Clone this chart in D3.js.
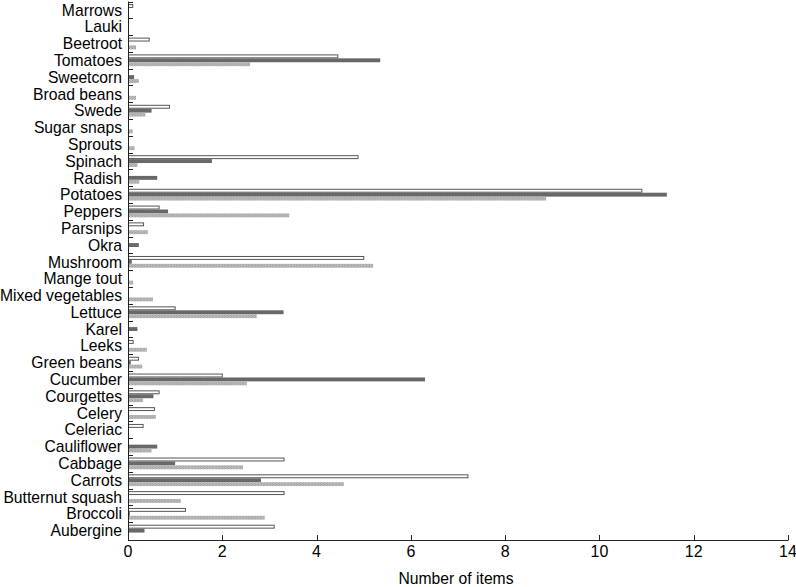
<!DOCTYPE html>
<html><head><meta charset="utf-8">
<script src="https://cdn.jsdelivr.net/npm/d3@7"></script>
<style>body{margin:0;background:#fff}svg{display:block}</style>
</head><body><svg id="c" width="796" height="587"></svg>
<script>
const categories = ["Marrows","Lauki","Beetroot","Tomatoes","Sweetcorn","Broad beans","Swede","Sugar snaps","Sprouts","Spinach","Radish","Potatoes","Peppers","Parsnips","Okra","Mushroom","Mange tout","Mixed vegetables","Lettuce","Karel","Leeks","Green beans","Cucumber","Courgettes","Celery","Celeriac","Cauliflower","Cabbage","Carrots","Butternut squash","Broccoli","Aubergine"];
const seriesA = [0.1,0,0.45,4.45,0,0,0.88,0,0,4.88,0,10.9,0.66,0.33,0,5.0,0,0,1.0,0,0.11,0.22,2.0,0.66,0.56,0.32,0,3.31,7.21,3.31,1.22,3.1];
const seriesB = [0,0,0,5.35,0.13,0,0.5,0,0,1.78,0.62,11.43,0.85,0,0.23,0.08,0,0,3.3,0.2,0,0.06,6.3,0.54,0,0,0.62,1.0,2.82,0,0.04,0.35];
const seriesC = [0,0,0.17,2.59,0.23,0.17,0.37,0.1,0.14,0.2,0.24,8.87,3.42,0.42,0,5.2,0.11,0.53,2.73,0,0.4,0.3,2.52,0.32,0.59,0,0.5,2.44,4.58,1.12,2.9,0];
const xTicks = [0,2,4,6,8,10,12,14];
const seriesKeys = ["A","B","C"];

const svg = d3.select("#c");
const L = 128, R = 788, T = 1.5, B = 539;
const x = d3.scaleLinear().domain([0,14]).range([L,R]);
const y = d3.scaleBand().domain(categories).range([T,B]).paddingInner(0).paddingOuter(0);
const inner = d3.scaleBand().domain(seriesKeys).range([y.bandwidth()*0.15, y.bandwidth()*0.85]).padding(0);

const defs = svg.append("defs");
const pat = defs.append("pattern").attr("id","hatch").attr("patternUnits","userSpaceOnUse").attr("width",3).attr("height",2);
pat.append("rect").attr("width",3).attr("height",2).attr("fill","#b8b8b8");
pat.append("rect").attr("width",1).attr("height",1).attr("fill","#a4a4a4");
pat.append("rect").attr("x",2).attr("y",1).attr("width",1).attr("height",1).attr("fill","#a8a8a8");

const data = categories.map((c,i)=>({c, A:seriesA[i], B:seriesB[i], C:seriesC[i]}));
const styles = {B:{fill:"#686868"},C:{fill:"url(#hatch)"}};

const g = svg.append("g");
data.forEach(d=>{
  seriesKeys.forEach(k=>{
    if(d[k]<=0) return;
    const y0 = y(d.c)+inner(k);
    const h = inner.bandwidth();
    if(k==="A"){
      g.append("rect").attr("x",x(0)+0.5).attr("y",y0+0.5).attr("width",Math.max(0,x(d[k])-x(0)-0.5)).attr("height",h-1)
        .attr("fill","#fff").attr("stroke","#555").attr("stroke-width",1);
    } else {
      g.append("rect").attr("x",x(0)).attr("y",y0).attr("width",x(d[k])-x(0)).attr("height",h)
        .attr("fill",styles[k].fill);
    }
  });
});

// y axis
const ax = svg.append("g").attr("stroke","#222").attr("stroke-width",1);
ax.append("line").attr("x1",L+0.5).attr("x2",L+0.5).attr("y1",T).attr("y2",B+1);
categories.forEach(c=>{
  const yy = Math.round(y(c))+0.5;
  ax.append("line").attr("x1",L).attr("x2",L+5).attr("y1",yy).attr("y2",yy);
});
// x axis
ax.append("line").attr("x1",L).attr("x2",R+0.5).attr("y1",B+1.5).attr("y2",B+1.5);
xTicks.forEach(t=>{
  const xx = Math.round(x(t))+0.5;
  ax.append("line").attr("x1",xx).attr("x2",xx).attr("y1",B+1).attr("y2",B-4);
});

const txt = svg.append("g").attr("font-family","Liberation Sans, Arial, sans-serif").attr("fill","#000");
categories.forEach(c=>{
  txt.append("text").attr("x",122).attr("y",y(c)+y.bandwidth()/2).attr("dy","0.36em")
    .attr("text-anchor","end").attr("font-size",15.7).text(c);
});
xTicks.forEach(t=>{
  txt.append("text").attr("x",x(t)).attr("y",557).attr("text-anchor","middle").attr("font-size",16).text(t);
});
txt.append("text").attr("x",456).attr("y",584).attr("text-anchor","middle").attr("font-size",15.7).text("Number of items");
</script></body></html>
